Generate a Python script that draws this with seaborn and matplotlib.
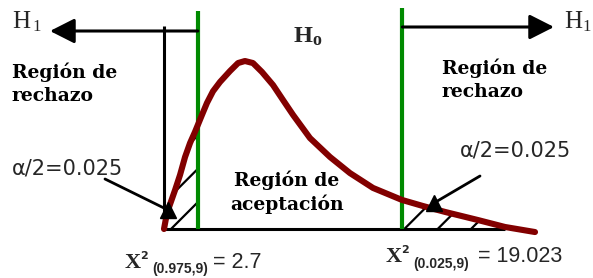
'''Chi-square (9 gl) acceptance / rejection regions sketch.'''

import numpy as np
import matplotlib
import matplotlib.pyplot as plt
import seaborn as sns

matplotlib.use('agg')

# density curve (chi-square value, height)
curve_x = [0.0, 0.24, 0.88, 1.28, 1.68, 2.08, 2.47, 3.03, 3.43, 3.91, 4.47, 5.27, 5.91,
           6.46, 7.10, 7.82, 8.70, 9.50, 10.30, 11.65, 13.25, 14.84, 16.68, 18.99,
           20.67, 22.43, 25.06, 27.21, 29.61]
curve_y = [0.0, 0.0095, 0.023, 0.032, 0.0426, 0.0509, 0.0574, 0.0675, 0.0746, 0.0815,
           0.0870, 0.0935, 0.0982, 0.0994, 0.0982, 0.0929, 0.0852, 0.0763, 0.0675,
           0.0538, 0.0426, 0.0331, 0.0243, 0.0172, 0.0136, 0.0101, 0.0053, 0.0012, -0.0018]

crit_values = [2.7, 19.023]
crit_labels = ['2.7', '19.023']
crit_probs = ['(0.975,9)', '(0.025,9)']
alpha_half = 0.025
axis_end = 27.2
axis_top = 0.120
guide_tops = [0.129, 0.131]

# picture pixels -> data units (layout only)
X0, SX = 164.0, 12.53
Y0, SY = 229.0, 1690.0


def P(px, py):
    return (px - X0) / SX, (Y0 - py) / SY


sns.set_theme(style='white')
plt.rcParams['hatch.linewidth'] = 1.6

fig = plt.figure(figsize=(5.93, 2.78), dpi=100, facecolor='white')
ax = fig.add_axes([0, 0, 1, 1])
ax.set_xlim(P(0, 0)[0], P(593, 0)[0])
ax.set_ylim(P(0, 278)[1], P(0, 0)[1])
ax.axis('off')

cx = np.array(curve_x)
cy = np.array(curve_y)

# hatched tails
for lo, hi in [(0.0, crit_values[0]), (crit_values[1], axis_end)]:
    m = (cx > lo) & (cx < hi)
    fx = np.concatenate([[lo], cx[m], [hi]])
    fy = np.concatenate([[np.interp(lo, cx, cy)], cy[m], [np.interp(hi, cx, cy)]])
    fy = np.clip(fy, 0, None)
    ax.fill_between(fx, fy, 0, facecolor='none', edgecolor='black',
                    hatch='/', linewidth=0, zorder=1)

# axes lines
ax.plot([0, axis_end], [0, 0], color='black', lw=2.2, solid_capstyle='butt', zorder=2)
ax.plot([0, 0], [0, axis_top], color='black', lw=2.2, solid_capstyle='butt', zorder=2)

# critical value guides
for cv, top in zip(crit_values, guide_tops):
    ax.plot([cv, cv], [0, top], color='#008a00', lw=3.0, solid_capstyle='butt', zorder=3)

# the curve
sns.lineplot(x=curve_x, y=curve_y, color='#820000', linewidth=4.4, sort=False,
             ax=ax, zorder=4)
ax.lines[-1].set_solid_joinstyle('round')

# H1 arrows
arrow_kw = dict(arrowstyle='-|>,head_length=0.75,head_width=0.38', color='black',
                lw=2.2, mutation_scale=20, shrinkA=0, shrinkB=0)
ax.annotate('', xy=P(50, 31), xytext=(crit_values[0], P(0, 31)[1]), arrowprops=arrow_kw)
ax.annotate('', xy=P(554, 27), xytext=(crit_values[1], P(0, 27)[1]), arrowprops=arrow_kw)

# alpha/2 pointers
for start, tip in [((105, 179), (168, 210)), ((480, 176), (434, 203))]:
    ax.plot(*zip(P(*start), P(*tip)), color='black', lw=2.0, zorder=5)
    ax.plot(*P(*tip), marker='^', ms=12, color='black', mec='black', zorder=6)

serif = 'Liberation Serif'
bold_serif = dict(family='DejaVu Serif', weight='bold', fontsize=13.5, color='black',
                  linespacing=1.35, va='top')
ax.text(*P(12, 63), 'Región de\nrechazo', ha='left', **bold_serif)
ax.text(*P(442, 59), 'Región de\nrechazo', ha='left', **bold_serif)
ax.text(*P(287, 170), 'Región de\naceptación', ha='center', multialignment='center',
        **bold_serif)

# H labels
ax.text(*P(12, 28), 'H', family=serif, fontsize=18, va='baseline')
ax.text(*P(32, 31), '1', family=serif, fontsize=12, va='baseline')
ax.text(*P(564, 28), 'H', family=serif, fontsize=18, va='baseline')
ax.text(*P(582, 31), '1', family=serif, fontsize=12, va='baseline')
ax.text(*P(294, 42), 'H', family=serif, weight='bold', fontsize=17.5, va='baseline')
ax.text(*P(312, 45), 'o', family=serif, weight='bold', fontsize=13, va='baseline')

# alpha / 2 labels
for px, py in [(12, 175), (460, 156)]:
    ax.text(*P(px, py), f'α/2={alpha_half:.3f}', family='DejaVu Sans', fontsize=15,
            va='baseline')

# chi-square critical value labels
for cv, lab, prob, px in zip(crit_values, crit_labels, crit_probs, [125, 386]):
    base = 268 if cv < 10 else 262
    ax.text(*P(px, base), 'X', family=serif, weight='bold', fontsize=16, va='baseline')
    ax.text(*P(px + 15, base - 9), '2', family='DejaVu Sans', weight='bold',
            fontsize=8, va='baseline')
    ax.text(*P(px + 27, min(base + 6, 273)), prob, family='Liberation Sans', weight='bold',
            fontsize=10, va='baseline')
    sub_end = 213 if cv < 10 else 478
    ax.text(*P(sub_end, base), f'= {lab}', family='Liberation Sans', fontsize=15.5,
            va='baseline')

plt.savefig('out.png', dpi=100, facecolor='white')
